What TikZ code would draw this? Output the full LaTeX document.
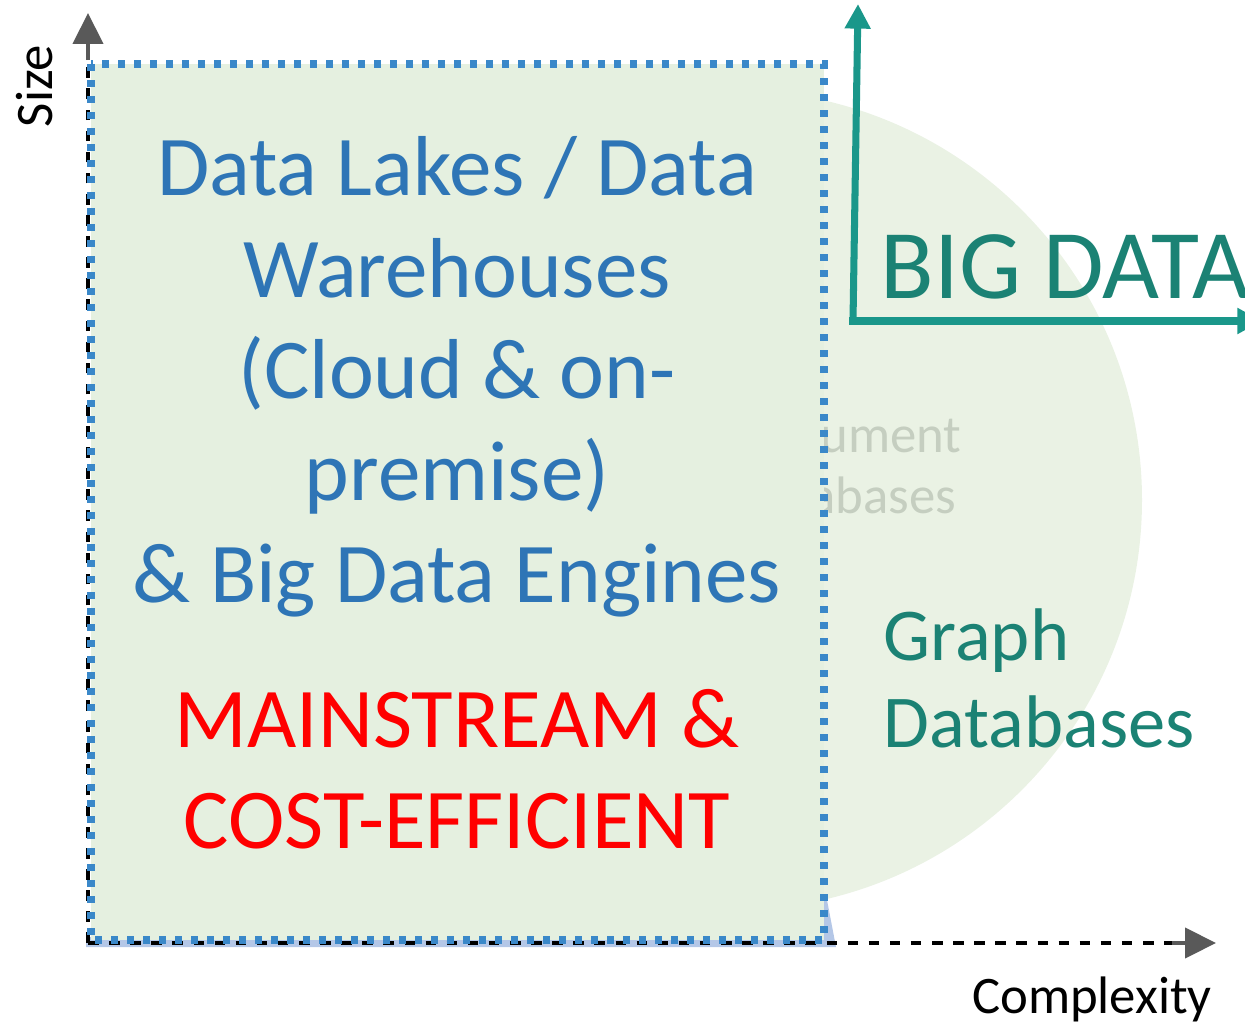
\documentclass[tikz,border=0pt]{standalone}
\usepackage{fontspec}
\setmainfont{Carlito}
\usetikzlibrary{arrows.meta}

\definecolor{lakeblue}{HTML}{2E75B6}
\definecolor{dotblue}{HTML}{3A88C9}
\definecolor{lakefill}{HTML}{E5F0E0}
\definecolor{bigfill}{HTML}{EAF2E4}
\definecolor{bdteal}{HTML}{1A978A}
\definecolor{bdtext}{HTML}{1B8274}
\definecolor{axisgray}{HTML}{595959}
\definecolor{docgray}{HTML}{C5CEC0}
\definecolor{patchblue}{HTML}{B4C7E7}
\definecolor{costred}{HTML}{FF0000}

\begin{document}
\begin{tikzpicture}[x=0.01cm, y=-0.01cm]
		\tikzstyle {axis line} = [black, line width=1pt, dash pattern=on 3pt off 3pt]
		\tikzstyle {axis head} = [axisgray, line width=1.3pt, -{Triangle[length=8.8pt, width=8.5pt]}]
		\tikzstyle {teal arrow} = [bdteal, line width=2pt, line cap=rect, -{Triangle[length=7pt, width=7pt]}]
		\tikzstyle {lake text} = [text=lakeblue, font=\fontsize{24.2pt}{29pt}\selectfont, inner sep=0pt, anchor=base]
		\tikzstyle {cost text} = [text=costred, font=\fontsize{24.2pt}{29pt}\selectfont, inner sep=0pt, anchor=base]
		\tikzstyle {graph text} = [text=bdtext, font=\fontsize{21.2pt}{25pt}\selectfont, inner sep=0pt, anchor=base west]
		\tikzstyle {doc text} = [text=docgray, font=\fontsize{15pt}{18pt}\selectfont, inner sep=0pt, anchor=base east]
		\tikzstyle {axis text} = [black, font=\fontsize{15pt}{18pt}\selectfont, inner sep=0pt, anchor=base]

		\useasboundingbox (0,0) rectangle (1245,1024);
		\clip (0,0) rectangle (1245,1024);

		% big data area behind the box
		\fill[bigfill] (732,500) circle [x radius=410, y radius=410];
		\draw (962,452) node[doc text] (docs1) {ument};
		\draw (957,513) node[doc text] (docs2) {abases};
		\fill[patchblue] (86,937) -- (822,937) -- (822,900) -- (827,900) -- (836,947) -- (86,947) -- cycle;

		\fill[lakefill] (91,64) rectangle (824,940);

		\coordinate (origin) at (88,943);
		\coordinate (size top) at (88,60);
		\coordinate (size tip) at (88,13);
		\coordinate (cx end) at (1172,943);
		\coordinate (cx tip) at (1216,943);

		\draw[axis line] (origin) -- (size top);
		\draw[axis head] (size top) -- (size tip);
		\draw[axis line] (origin) -- (cx end);
		\draw[axis head] (cx end) -- (cx tip);

		\draw[dotblue, line width=2pt, dash pattern=on 2pt off 2.55pt] (91,64) rectangle (824,940);

		\coordinate (bd corner) at (853,321);
		\coordinate (bd top) at (858,4);
		\coordinate (bd right) at (1262,321);
		\draw[teal arrow] (bd corner) -- (bd top);
		\draw[teal arrow] (bd corner) -- (bd right);

		\draw (880,298) node[text=bdtext, font=\fontsize{28pt}{33pt}\selectfont, inner sep=0pt, anchor=base west] (bigdata) {BIG DATA};

		\draw (457,195) node[lake text] (lake1) {Data Lakes / Data};
		\draw (457,297) node[lake text] (lake2) {Warehouses};
		\draw (457,398) node[lake text] (lake3) {(Cloud \& on-};
		\draw (457,500) node[lake text] (lake4) {premise)};
		\draw (457,602) node[lake text] (lake5) {\& Big Data Engines};

		\draw (457,747) node[cost text] (cost1) {MAINSTREAM \&};
		\draw (457,848) node[cost text] (cost2) {COST-EFFICIENT};

		\draw (883,660) node[graph text] (graph1) {Graph};
		\draw (883,747) node[graph text] (graph2) {Databases};

		\draw (52,86) node[axis text, rotate=90] (size) {Size};
		\draw (1092,1013) node[axis text] (complexity) {Complexity};
\end{tikzpicture}
\end{document}
